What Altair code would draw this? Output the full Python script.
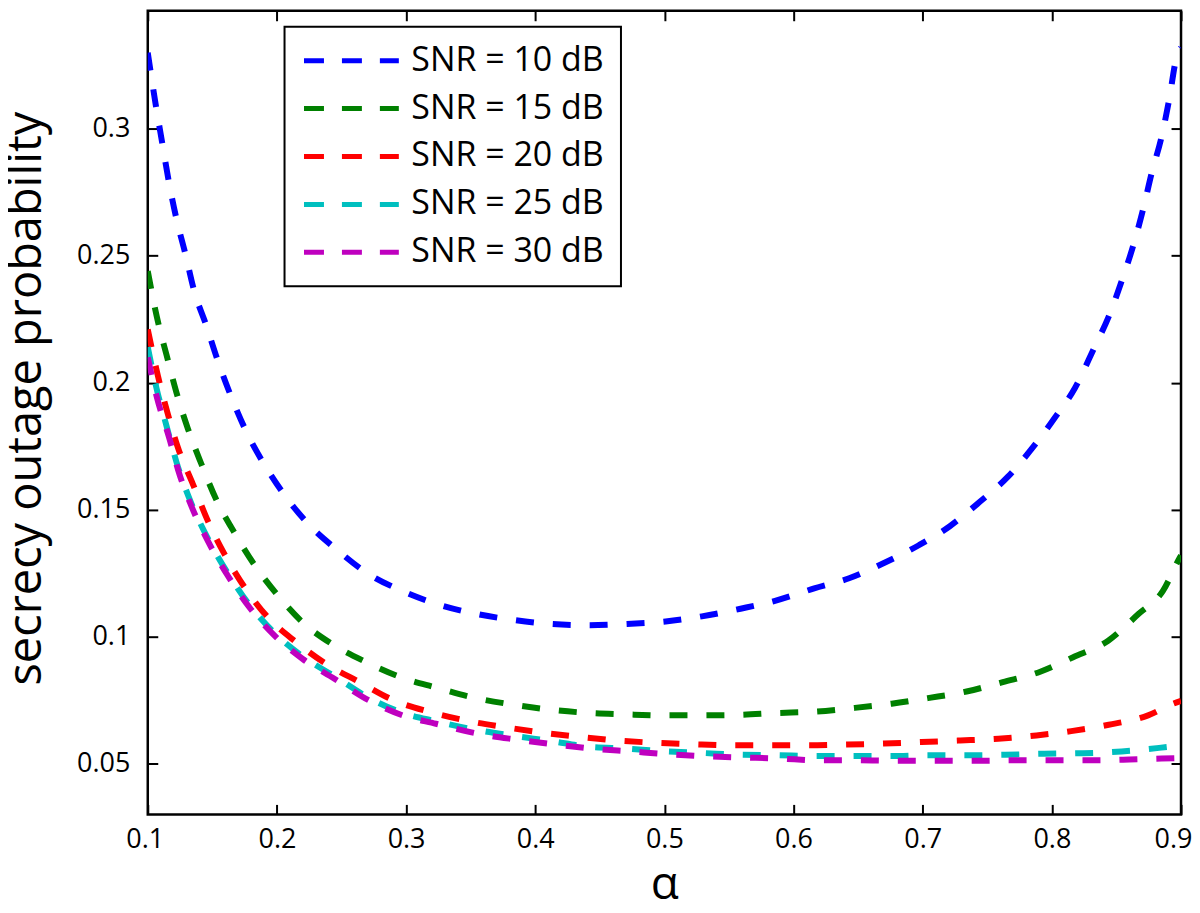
import altair as alt
import pandas as pd

# ---------------- data ----------------
series_names = ["SNR = 10 dB", "SNR = 15 dB", "SNR = 20 dB", "SNR = 25 dB", "SNR = 30 dB"]
series_colors = ["#0000FF", "#008000", "#FF0000", "#00BFBF", "#BF00BF"]

alpha_10 = [0.100, 0.106, 0.111, 0.116, 0.122, 0.129, 0.136, 0.145, 0.154, 0.165, 0.177, 0.190,
            0.207, 0.225, 0.247, 0.270, 0.297, 0.323, 0.354, 0.384, 0.412, 0.442, 0.471, 0.501,
            0.529, 0.559, 0.585, 0.616, 0.643, 0.670, 0.697, 0.721, 0.744, 0.766, 0.786, 0.802,
            0.818, 0.833, 0.844, 0.854, 0.863, 0.871, 0.877, 0.885, 0.891, 0.896, 0.900]
pout_10 = [0.330, 0.310, 0.295, 0.280, 0.265, 0.251, 0.236, 0.223, 0.209, 0.194, 0.180, 0.168,
           0.155, 0.144, 0.134, 0.125, 0.118, 0.113, 0.109, 0.1065, 0.105, 0.1045, 0.105, 0.106,
           0.108, 0.111, 0.114, 0.119, 0.123, 0.129, 0.136, 0.1435, 0.153, 0.163, 0.175, 0.186,
           0.198, 0.214, 0.226, 0.240, 0.254, 0.269, 0.282, 0.297, 0.312, 0.327, 0.332]

alpha_15 = [0.100, 0.107, 0.1145, 0.122, 0.131, 0.1415, 0.153, 0.167, 0.183, 0.1995, 0.220, 0.243,
            0.269, 0.296, 0.323, 0.353, 0.382, 0.411, 0.440, 0.470, 0.500, 0.529, 0.558, 0.586,
            0.617, 0.6465, 0.676, 0.704, 0.734, 0.762, 0.791, 0.8165, 0.8436, 0.867, 0.886, 0.899, 0.900]
pout_15 = [0.244, 0.226, 0.211, 0.1965, 0.182, 0.168, 0.154, 0.141, 0.128, 0.117, 0.1056, 0.097,
           0.090, 0.084, 0.080, 0.0759, 0.0733, 0.0713, 0.0700, 0.0694, 0.0690, 0.0690, 0.0692, 0.0699,
           0.0705, 0.0719, 0.0736, 0.0758, 0.0784, 0.0821, 0.0862, 0.0919, 0.0984, 0.1089, 0.118, 0.1311, 0.132]

alpha_20 = [0.100, 0.108, 0.1157, 0.1234, 0.135, 0.1466, 0.1595, 0.175, 0.193, 0.215, 0.238, 0.264,
            0.291, 0.319, 0.346, 0.376, 0.4055, 0.435, 0.4635, 0.493, 0.523, 0.552, 0.582, 0.612,
            0.641, 0.670, 0.699, 0.729, 0.7585, 0.788, 0.815, 0.844, 0.8745, 0.894, 0.900]
pout_20 = [0.221, 0.2024, 0.1874, 0.1744, 0.160, 0.1455, 0.1324, 0.1194, 0.1076, 0.0978, 0.0893, 0.0821,
           0.0748, 0.0703, 0.0670, 0.0644, 0.0622, 0.0605, 0.0591, 0.0582, 0.0576, 0.0572, 0.0572, 0.0572,
           0.0575, 0.0579, 0.0585, 0.0591, 0.0598, 0.0611, 0.0628, 0.0653, 0.0690, 0.0736, 0.0747]

alpha_25 = [0.100, 0.1067, 0.1145, 0.1234, 0.1338, 0.1466, 0.1621, 0.1788, 0.1982, 0.220, 0.2445,
            0.2716, 0.2973, 0.3231, 0.354, 0.3837, 0.412, 0.4416, 0.4712, 0.5009, 0.5292, 0.5589,
            0.5872, 0.617, 0.646, 0.676, 0.705, 0.735, 0.764, 0.794, 0.824, 0.854, 0.883, 0.900]
pout_25 = [0.214, 0.198, 0.183, 0.1668, 0.1524, 0.1386, 0.1249, 0.1125, 0.1014, 0.0922, 0.0844,
           0.0758, 0.0700, 0.0667, 0.0633, 0.0609, 0.0589, 0.0566, 0.0559, 0.0548, 0.0542, 0.0535,
           0.0533, 0.0530, 0.0530, 0.0530, 0.0533, 0.0533, 0.0535, 0.0539, 0.0541, 0.0548, 0.0562, 0.0572]

alpha_30 = [0.100, 0.1067, 0.117, 0.1234, 0.1338, 0.1466, 0.1621, 0.1788, 0.1982, 0.220, 0.2445,
            0.2716, 0.2973, 0.3231, 0.3553, 0.3849, 0.4146, 0.4442, 0.4739, 0.5035, 0.5318, 0.5615,
            0.5885, 0.620, 0.650, 0.680, 0.710, 0.740, 0.770, 0.800, 0.830, 0.860, 0.885, 0.900]
pout_30 = [0.210, 0.195, 0.1776, 0.1658, 0.1514, 0.1376, 0.1239, 0.1115, 0.1004, 0.0912, 0.0834,
           0.0748, 0.0690, 0.0657, 0.0618, 0.0595, 0.0576, 0.0559, 0.0548, 0.0537, 0.0529, 0.0524,
           0.0520, 0.0513, 0.0513, 0.0511, 0.0511, 0.0511, 0.0513, 0.0513, 0.0513, 0.0516, 0.0520, 0.0522]

x_ticks = [0.1, 0.2, 0.3, 0.4, 0.5, 0.6, 0.7, 0.8, 0.9]
y_ticks = [0.05, 0.1, 0.15, 0.2, 0.25, 0.3]
x_domain = [0.1, 0.9]
y_domain = [0.03, 0.3465]

rows = []
for name, al, pl in zip(series_names,
                        [alpha_10, alpha_15, alpha_20, alpha_25, alpha_30],
                        [pout_10, pout_15, pout_20, pout_25, pout_30]):
    for i, (a, p) in enumerate(zip(al, pl)):
        rows.append({"alpha": a, "pout": p, "snr": name, "idx": i})
df = pd.DataFrame(rows)

FONT = "Open Sans"

x_scale = alt.Scale(domain=x_domain, nice=False, zero=False)
y_scale = alt.Scale(domain=y_domain, nice=False, zero=False)

lines = alt.Chart(df).mark_line(
    strokeWidth=6, strokeDash=[18, 19], strokeCap="butt", interpolate="monotone", clip=True
).encode(
    x=alt.X("alpha:Q", scale=x_scale,
            axis=alt.Axis(values=x_ticks, format=".1f", title="α", orient="bottom",
                          offset=-10, tickSize=10, tickWidth=2, tickColor="black",
                          domain=False, grid=False, labelPadding=12, labelFlush=False,
                          labelOverlap=False,
                          labelOffset={"expr": "datum.value > 0.85 ? -8 : (datum.value < 0.15 ? -3 : 0)"},
                          labelFontSize=27, labelFont=FONT, labelColor="black",
                          titleFontSize=46, titleFont=FONT, titleFontWeight="normal",
                          titleColor="black", titleBaseline="alphabetic", titleY=94)),
    y=alt.Y("pout:Q", scale=y_scale,
            axis=alt.Axis(values=y_ticks, format="~g", title="secrecy outage probability",
                          orient="left", offset=-10, tickSize=10, tickWidth=2, tickColor="black",
                          domain=False, grid=False, labelPadding=18, labelFlush=False,
                          labelOverlap=False,
                          labelFontSize=27, labelFont=FONT, labelColor="black",
                          titleFontSize=47, titleFont=FONT, titleFontWeight="normal",
                          titleColor="black", titleBaseline="alphabetic",
                          titleX=-117, titleY=388)),
    color=alt.Color("snr:N", scale=alt.Scale(domain=series_names, range=series_colors),
                    legend=alt.Legend(title=None, orient="none", legendX=137, legendY=16,
                                      symbolType="stroke", symbolSize=9025, symbolStrokeWidth=5,
                                      symbolDash=[20, 18], clipHeight=34, rowPadding=14,
                                      labelOffset=10, labelFontSize=34, labelFont=FONT,
                                      labelColor="black", labelLimit=500, padding=17,
                                      strokeColor="black", fillColor="white",
                                      labelExpr="datum.label + '\u00a0\u00a0\u00a0\u00a0'")),
    order=alt.Order("idx:Q"),
)

mirror = alt.Chart(df).mark_line(opacity=0).encode(
    x=alt.X("alpha:Q", scale=x_scale,
            axis=alt.Axis(values=x_ticks, orient="top", labels=False, title=None,
                          offset=-10, tickSize=10, tickWidth=2, tickColor="black",
                          domain=False, grid=False)),
    y=alt.Y("pout:Q", scale=y_scale,
            axis=alt.Axis(values=y_ticks, orient="right", labels=False, title=None,
                          offset=-10, tickSize=10, tickWidth=2, tickColor="black",
                          domain=False, grid=False)),
    detail="snr:N",
)

chart = alt.layer(lines, mirror).resolve_axis(
    x="independent", y="independent"
).properties(
    width=1035, height=805,
    autosize=alt.AutoSizeParams(type="none"),
    padding={"left": 140, "top": 2, "right": 11, "bottom": 90},
).configure_view(
    stroke="black", strokeWidth=2.5
).configure_legend(
    strokeWidth=2
)

chart.save("out.html", embed_options={"renderer": "svg", "actions": False})
